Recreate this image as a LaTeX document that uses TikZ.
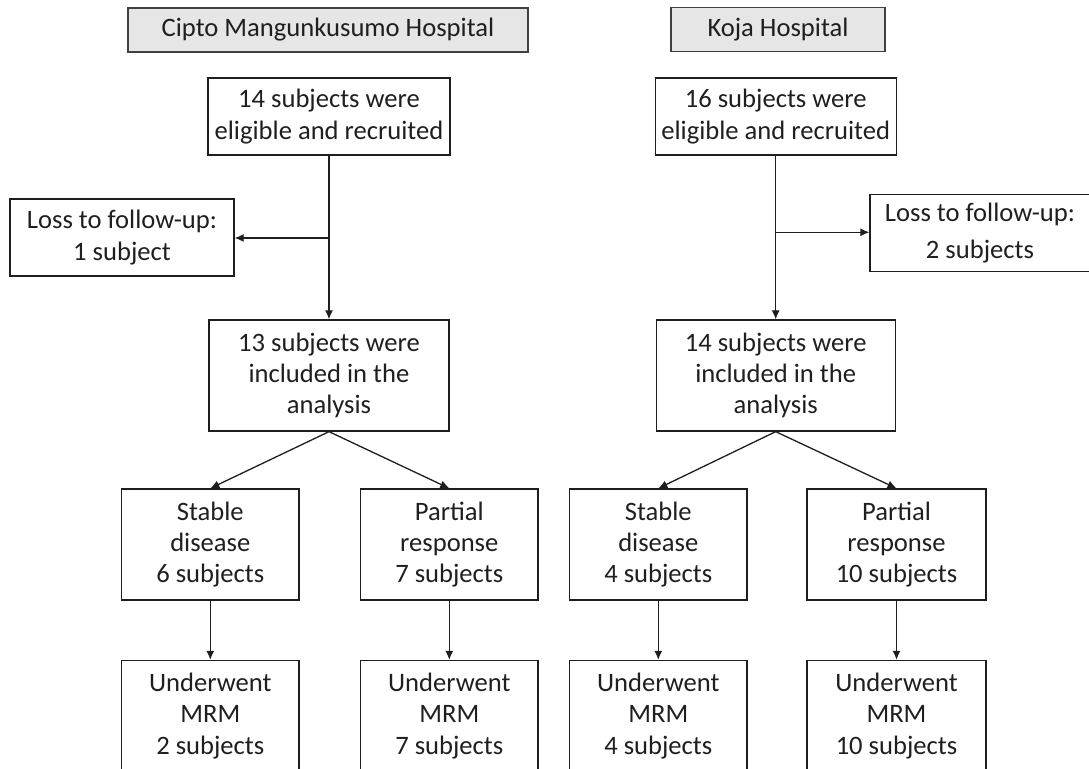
\documentclass[tikz,border=0pt]{standalone}
\usepackage{fontspec}
\setmainfont{Carlito}
\usetikzlibrary{arrows.meta, calc, positioning}
\definecolor{Ink}{HTML}{1E1E1E}
\definecolor{Frame}{HTML}{404040}
\definecolor{HeaderGray}{HTML}{E6E6E6}
\definecolor{TextInk}{HTML}{1F1F1F}
\tikzset{
  box/.style={draw=Ink, line width=0.65pt, align=center, inner sep=0pt, minimum height=55.5pt, text=TextInk, font=\fontsize{13.3pt}{15.6pt}\selectfont},
  header/.style={box, draw=Frame, fill=HeaderGray, minimum height=22pt},
  flow/.style={-{Latex[length=4.5pt, width=4pt]}, line width=0.65pt, color=Ink},
}
\begin{document}
\begin{tikzpicture}[x=0.5pt, y=-0.5pt]
  \useasboundingbox (0,0) rectangle (1089,769);

  % Hospital headers
  \node[header, minimum width=200pt] (hdrA) at (328,30) {Cipto Mangunkusumo Hospital};
  \node[header, minimum width=107pt] (hdrB) at (778,29.5) {Koja Hospital};

  % Recruited
  \node[box, minimum width=121pt, minimum height=38.5pt] (eligA) at (329,116.5) {14 subjects were\\eligible and recruited};
  \node[box, minimum width=120.5pt, minimum height=38.5pt] (eligB) at (775.7,116.5) {16 subjects were\\eligible and recruited};

  % Loss to follow-up
  \node[box, minimum width=112pt, minimum height=38.5pt, font=\fontsize{13.3pt}{16pt}\selectfont] (lossA) at (122,237.5) {Loss to follow-up:\\1 subject};
  \node[box, minimum width=110pt, minimum height=38.8pt, font=\fontsize{13.3pt}{18.5pt}\selectfont] (lossB) at (980,233) {Loss to follow-up:\\2 subjects};

  % Included in the analysis
  \node[box, minimum width=120pt] (inclA) at (329,375.5) {13 subjects were\\included in the\\analysis};
  \node[box, minimum width=119.5pt] (inclB) at (775.7,375.5) {14 subjects were\\included in the\\analysis};

  % Response
  \node[box, minimum width=88.7pt] (stabA) at (210.3,544.5) {Stable\\disease\\6 subjects};
  \node[box, minimum width=88.7pt] (partA) at (449.3,544.5) {Partial\\response\\7 subjects};
  \node[box, minimum width=88.7pt] (stabB) at (658.3,544.5) {Stable\\disease\\4 subjects};
  \node[box, minimum width=89.5pt] (partB) at (896.5,544.5) {Partial\\response\\10 subjects};

  % MRM
  \node[box, minimum width=88.7pt] (mrmA1) at (210.3,716) {Underwent\\MRM\\2 subjects};
  \node[box, minimum width=88.7pt] (mrmA2) at (449.3,716) {Underwent\\MRM\\7 subjects};
  \node[box, minimum width=88.7pt] (mrmB1) at (658.3,716) {Underwent\\MRM\\4 subjects};
  \node[box, minimum width=89.5pt] (mrmB2) at (896.5,716) {Underwent\\MRM\\10 subjects};

  % Branch points
  \coordinate (brA) at (329,238);
  \coordinate (brB) at (775.7,232.3);

  % Connectors
  \draw[flow] (eligA.south) -- (inclA.north);
  \draw[flow] (eligB.south) -- (inclB.north);
  \draw[flow] (brA) -- (brA -| lossA.east);
  \draw[flow] (brB) -- (brB -| lossB.west);
  \draw[flow] (inclA.south) -- (stabA.north);
  \draw[flow] (inclA.south) -- (partA.north);
  \draw[flow] (inclB.south) -- (stabB.north);
  \draw[flow] (inclB.south) -- (partB.north);
  \draw[flow] (stabA.south) -- (mrmA1.north);
  \draw[flow] (partA.south) -- (mrmA2.north);
  \draw[flow] (stabB.south) -- (mrmB1.north);
  \draw[flow] (partB.south) -- (mrmB2.north);
\end{tikzpicture}
\end{document}
